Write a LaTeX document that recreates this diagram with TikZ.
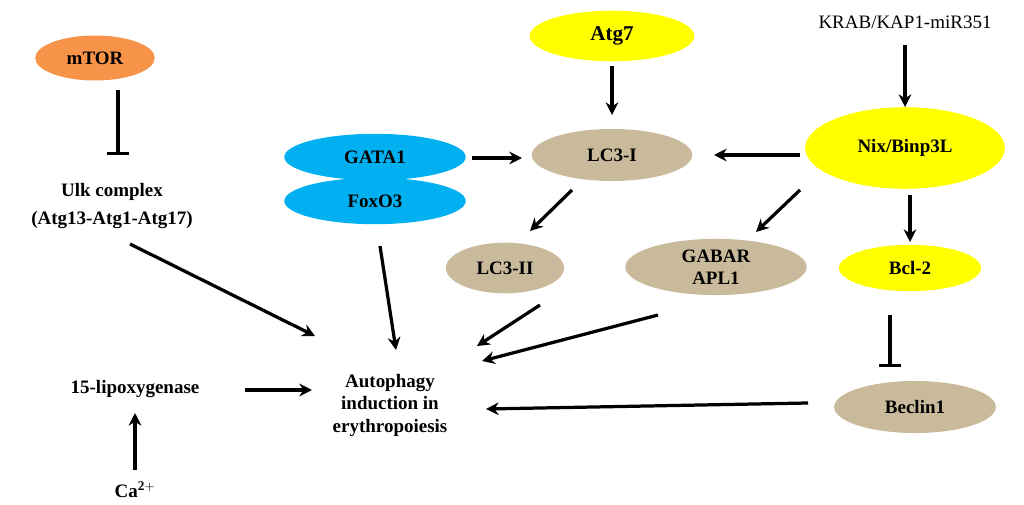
\documentclass[tikz,border=0pt]{standalone}
\usepackage{fontspec}
\setmainfont{Liberation Serif}
\usetikzlibrary{arrows.meta,shapes.geometric}
\definecolor{orng}{HTML}{F7944A}
\definecolor{yel}{HTML}{FFFF00}
\definecolor{blu}{HTML}{00B0F0}
\definecolor{tan}{HTML}{C8BA9B}
\begin{document}
\begin{tikzpicture}[x=0.025cm,y=-0.025cm,
  every node/.style={font=\fontsize{13.5}{16}\selectfont\bfseries,align=center},
  ell/.style={ellipse,draw=none,inner sep=0pt},
  arr/.style={line width=2.3pt,-{Stealth[length=9pt,width=9pt]}},
  inh/.style={line width=2.3pt,-{Bar[width=16pt]}}]
\useasboundingbox (0,0) rectangle (1024,505);
\node[ell,fill=orng,minimum width=85pt,minimum height=32pt] (mtor) at (95,58) {mTOR};
\node (ulk) at (112,206) {Ulk complex\\[4pt](Atg13-Atg1-Atg17)};
\node[ell,fill=yel,minimum width=117pt,minimum height=36pt,font=\fontsize{15}{18}\selectfont\bfseries] (atg7) at (612,36) {Atg7};
\node[font=\fontsize{13.5}{16}\selectfont] (krab) at (905,22) {KRAB/KAP1-miR351};
\node[ell,fill=yel,minimum width=142pt,minimum height=58pt] (nix) at (905,148) {Nix/Binp3L};
\node[ell,fill=tan,minimum width=114pt,minimum height=37pt] (lc3i) at (612,155) {LC3-I};
\node[ell,fill=blu,minimum width=129pt,minimum height=33pt] (gata) at (375,157) {GATA1};
\node[ell,fill=blu,minimum width=129pt,minimum height=33pt] (foxo) at (375,201) {FoxO3};
\node[ell,fill=tan,minimum width=84pt,minimum height=36pt] (lc3ii) at (505,268) {LC3-II};
\node[ell,fill=tan,minimum width=129pt,minimum height=40pt] (gabar) at (716,267) {GABAR\\APL1};
\node[ell,fill=yel,minimum width=101pt,minimum height=33pt] (bcl) at (910,268) {Bcl-2};
\node[ell,fill=tan,minimum width=115pt,minimum height=37pt] (bec) at (915,407) {Beclin1};
\node (auto) at (390,405) {Autophagy\\induction in\\erythropoiesis};
\node (lox) at (135,389) {15-lipoxygenase};
\node (ca) at (135,490) {Ca$^{\mathbf{2+}}$};
\coordinate (a1) at (118,90); \coordinate (a2) at (118,155);
\draw[inh] (a1) -- (a2);
\coordinate (b1) at (612,66); \coordinate (b2) at (612,115);
\draw[arr] (b1) -- (b2);
\coordinate (c1) at (905,45); \coordinate (c2) at (905,107);
\draw[arr] (c1) -- (c2);
\coordinate (d1) at (472,158); \coordinate (d2) at (522,158);
\draw[arr] (d1) -- (d2);
\coordinate (e1) at (800,155); \coordinate (e2) at (714,155);
\draw[arr] (e1) -- (e2);
\coordinate (f1) at (572,190); \coordinate (f2) at (530,231);
\draw[arr] (f1) -- (f2);
\coordinate (g1) at (800,190); \coordinate (g2) at (756,232);
\draw[arr] (g1) -- (g2);
\coordinate (h1) at (910,195); \coordinate (h2) at (910,242);
\draw[arr] (h1) -- (h2);
\coordinate (i1) at (890,315); \coordinate (i2) at (890,367);
\draw[inh] (i1) -- (i2);
\coordinate (j1) at (130,244); \coordinate (j2) at (315,336);
\draw[arr] (j1) -- (j2);
\coordinate (k1) at (380,246); \coordinate (k2) at (396,350);
\draw[arr] (k1) -- (k2);
\coordinate (l1) at (540,305); \coordinate (l2) at (477,346);
\draw[arr] (l1) -- (l2);
\coordinate (m1) at (658,315); \coordinate (m2) at (482,361);
\draw[arr] (m1) -- (m2);
\coordinate (n1) at (808,403); \coordinate (n2) at (486,409);
\draw[arr] (n1) -- (n2);
\coordinate (o1) at (245,390); \coordinate (o2) at (312,390);
\draw[arr] (o1) -- (o2);
\coordinate (p1) at (135,470); \coordinate (p2) at (135,413);
\draw[arr] (p1) -- (p2);
\end{tikzpicture}
\end{document}
